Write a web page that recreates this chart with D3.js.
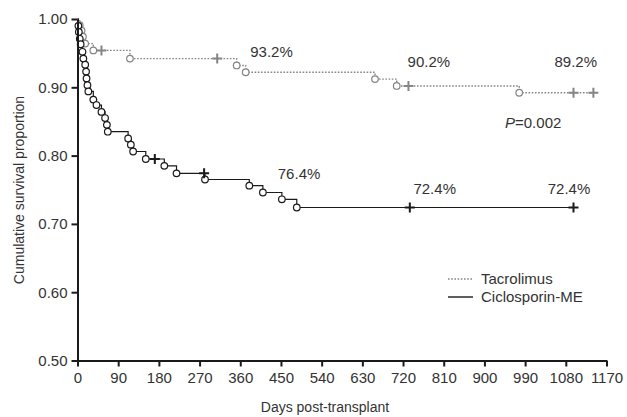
<!DOCTYPE html>
<html>
<head>
<meta charset="utf-8">
<script src="https://cdn.jsdelivr.net/npm/d3@7"></script>
<style>
  body { margin: 0; background: #fff; }
  svg { display: block; font-family: "Liberation Sans", Arial, Helvetica, sans-serif; }
  .axis path, .axis line { stroke: #1a1a1a; stroke-width: 2; }
  .axis text { font-size: 15px; fill: #333; font-family: "Liberation Sans", Arial, sans-serif; }
  .lbl { font-size: 15px; fill: #333; }
  .title { font-size: 14px; fill: #333; }
</style>
</head>
<body>
<svg width="627" height="417"></svg>
<script>
'use strict';

// Tacrolimus (dotted grey) - events and censored times
var tacDays = [5, 9, 12, 17, 35, 116, 352, 372, 658, 706, 977];
var tacSurv = [0.991, 0.983, 0.974, 0.964, 0.954, 0.942, 0.932, 0.922, 0.912, 0.902, 0.892];
var tacCensor = [53, 309, 732, 1097, 1141];

// Ciclosporin-ME (solid black)
var cicDays = [2, 3, 5, 7, 11, 13, 17, 19, 20, 22, 24, 35, 42, 53, 61, 65, 67,
               112, 118, 123, 151, 192, 219, 282, 380, 410, 452, 485];
var cicSurv = [0.990, 0.981, 0.971, 0.963, 0.952, 0.942, 0.933, 0.923, 0.913, 0.903, 0.894, 0.882,
               0.874, 0.864, 0.855, 0.845, 0.835, 0.825, 0.816, 0.806, 0.795, 0.785, 0.774,
               0.765, 0.756, 0.746, 0.736, 0.724];
var cicCensor = [171, 280, 735, 1097];

var xTicks = d3.range(0, 1171, 90);
var yTicks = [0.5, 0.6, 0.7, 0.8, 0.9, 1.0];

// annotations: text, day, survival (position of text baseline)
var notes = [
  ["93.2%", 382, 0.945], ["90.2%", 730, 0.929], ["89.2%", 1055, 0.929],
  ["76.4%", 443, 0.766], ["72.4%", 743, 0.744], ["72.4%", 1040, 0.744]
];

var svg = d3.select("svg");
var x = d3.scaleLinear().domain([0, 1170]).range([77.5, 606.5]);
var y = d3.scaleLinear().domain([0.5, 1.0]).range([360.5, 19]);

// build step series from events
function series(days, surv, end) {
  var pts = [[0, 1]];
  days.forEach(function(d, i) { pts.push([d, surv[i]]); });
  pts.push([end, surv[surv.length - 1]]);
  return pts;
}
// survival at time t (for censor marks)
function survAt(days, surv, t) {
  var s = 1;
  days.forEach(function(d, i) { if (d <= t) s = surv[i]; });
  return s;
}

var line = d3.line()
  .x(function(d) { return x(d[0]); })
  .y(function(d) { return y(d[1]); })
  .curve(d3.curveStepAfter);

var groups = [
  {days: tacDays, surv: tacSurv, cens: tacCensor, color: "#858585", dash: "1.6,1.6", width: 1.4},
  {days: cicDays, surv: cicSurv, cens: cicCensor, color: "#1a1a1a", dash: null, width: 1.2}
];

groups.forEach(function(g) {
  var pts = series(g.days, g.surv, d3.max(g.cens));
  svg.append("path")
    .datum(pts)
    .attr("fill", "none")
    .attr("stroke", g.color)
    .attr("stroke-width", g.width)
    .attr("stroke-dasharray", g.dash)
    .attr("d", line);

  svg.selectAll(null)
    .data(g.days)
    .enter().append("circle")
      .attr("cx", function(d) { return x(d); })
      .attr("cy", function(d, i) { return y(g.surv[i]); })
      .attr("r", 3.3)
      .attr("fill", "#fff")
      .attr("stroke", g.color)
      .attr("stroke-width", 1.2);

  svg.selectAll(null)
    .data(g.cens)
    .enter().append("path")
      .attr("d", function(d) {
        var cx = x(d), cy = y(survAt(g.days, g.surv, d));
        return "M" + (cx - 5) + "," + cy + "H" + (cx + 5) + "M" + cx + "," + (cy - 5) + "V" + (cy + 5);
      })
      .attr("stroke", g.color)
      .attr("stroke-width", 2);
});

// axes
svg.append("g")
  .attr("class", "axis")
  .attr("transform", "translate(0," + y(0.5) + ")")
  .call(d3.axisBottom(x).tickValues(xTicks).tickFormat(d3.format("d")).tickSize(6).tickSizeOuter(0).tickPadding(6));

svg.append("g")
  .attr("class", "axis")
  .attr("transform", "translate(" + x(0) + ",0)")
  .call(d3.axisLeft(y).tickValues(yTicks).tickFormat(d3.format(".2f")).tickSize(6).tickSizeOuter(0).tickPadding(4));

// axis titles
svg.append("text")
  .attr("class", "title")
  .attr("text-anchor", "middle")
  .attr("x", 325)
  .attr("y", 412)
  .text("Days post-transplant");

svg.append("text")
  .attr("class", "title")
  .attr("text-anchor", "middle")
  .attr("transform", "translate(24,190) rotate(-90)")
  .text("Cumulative survival proportion");

// percent annotations
svg.selectAll(".note")
  .data(notes)
  .enter().append("text")
    .attr("class", "lbl")
    .attr("x", function(d) { return x(d[1]); })
    .attr("y", function(d) { return y(d[2]); })
    .text(function(d) { return d[0]; });

var p = svg.append("text").attr("class", "lbl").attr("x", 505).attr("y", 127.5);
p.append("tspan").attr("font-style", "italic").text("P");
p.append("tspan").text("=0.002");

// legend
var legend = [["Tacrolimus", 0], ["Ciclosporin-ME", 1]];
legend.forEach(function(l, i) {
  var gy = 279 + i * 18;
  svg.append("line")
    .attr("x1", 448).attr("x2", 473)
    .attr("y1", gy).attr("y2", gy)
    .attr("stroke", groups[l[1]].color)
    .attr("stroke-width", groups[l[1]].width + 0.2)
    .attr("stroke-dasharray", groups[l[1]].dash);
  svg.append("text")
    .attr("class", "lbl")
    .attr("x", 481)
    .attr("y", gy + 5)
    .text(l[0]);
});
</script>
</body>
</html>
